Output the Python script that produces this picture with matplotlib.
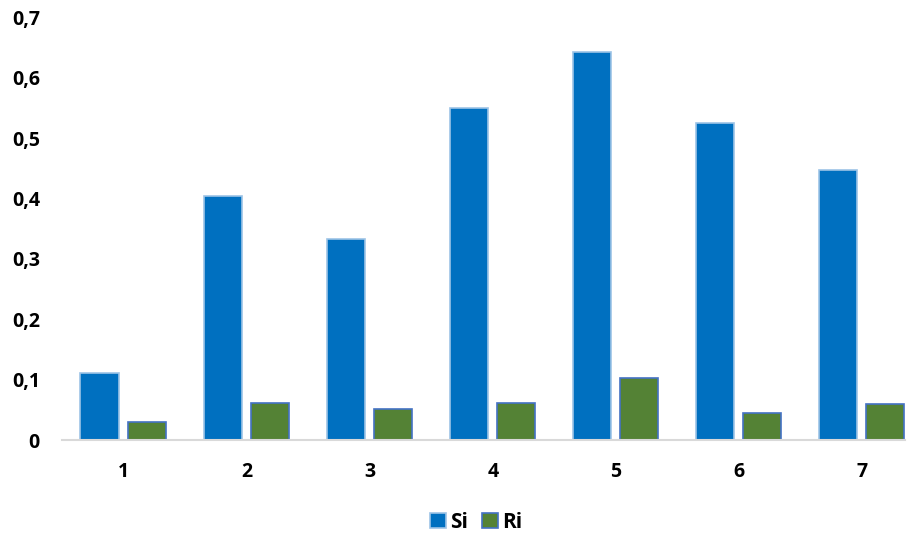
import matplotlib
matplotlib.use("Agg")
import matplotlib.pyplot as plt
import numpy as np

categories = ["1", "2", "3", "4", "5", "6", "7"]
si = [0.111, 0.404, 0.333, 0.550, 0.643, 0.525, 0.447]
ri = [0.030, 0.061, 0.051, 0.062, 0.102, 0.045, 0.060]
y_ticks = [0, 0.1, 0.2, 0.3, 0.4, 0.5, 0.6, 0.7]

plt.rcParams['font.family'] = ['Open Sans', 'DejaVu Sans']

fig = plt.figure(figsize=(9.12, 5.38), dpi=100)
ax = fig.add_axes([62 / 912, 98 / 538, (905 - 62) / 912, (440 - 17.5) / 538])

x = np.arange(len(categories))
w = 0.31
ax.bar(x - 0.195, si, w, color="#0070C0", edgecolor="#9DC3E6", linewidth=1.2, label="Si")
ax.bar(x + 0.19, ri, w, color="#548235", edgecolor="#4472C4", linewidth=1.2, label="Ri")

ax.set_xlim(-0.5, 6.35)
ax.set_ylim(0, 0.7)
ax.set_xticks(x)
ax.set_xticklabels(categories, fontsize=14, fontweight="bold")
ax.set_yticks(y_ticks)
ax.set_yticklabels(["0" if t == 0 else f"{t:.1f}".replace(".", ",") for t in y_ticks],
                   fontsize=14, fontweight="bold")
ax.tick_params(length=0)
ax.tick_params(axis="x", pad=16)
ax.tick_params(axis="y", pad=16)
for s in ["top", "right", "left"]:
    ax.spines[s].set_visible(False)
ax.spines["bottom"].set_color("#D9D9D9")
ax.spines["bottom"].set_linewidth(1.5)

leg = fig.legend(loc="center", bbox_to_anchor=(476 / 912, 1 - 522 / 538), ncol=2, frameon=False,
                 prop={"size": 15, "weight": "bold"}, handlelength=0.75, handleheight=0.75,
                 handletextpad=0.2, columnspacing=0.7)

fig.savefig("out.png", dpi=100)
